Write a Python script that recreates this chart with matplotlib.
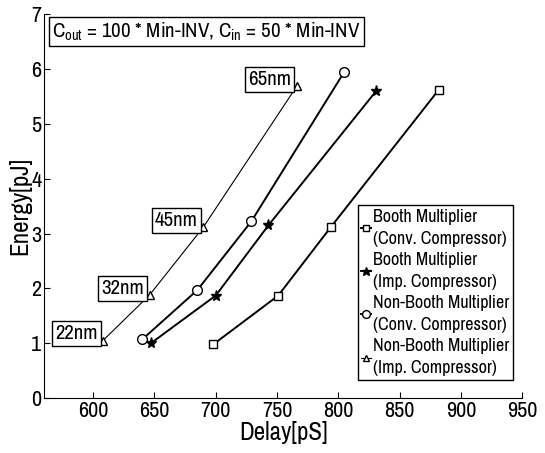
import numpy as np
import matplotlib
matplotlib.use('Agg')
import matplotlib.pyplot as plt

plt.rcParams['font.family'] = ['Archivo Narrow', 'Liberation Sans', 'DejaVu Sans']
plt.rcParams['mathtext.fontset'] = 'custom'
plt.rcParams['mathtext.rm'] = 'Archivo Narrow'

# delay [pS] / energy [pJ] for the 4 designs (22nm, 32nm, 45nm, 65nm)
booth_conv_x = [698, 751, 794, 882]
booth_conv_y = [0.98, 1.87, 3.12, 5.62]
booth_imp_x = [647, 700, 743, 831]
booth_imp_y = [1.0, 1.87, 3.15, 5.6]
nonbooth_conv_x = [640, 685, 729, 805]
nonbooth_conv_y = [1.07, 1.97, 3.22, 5.95]
nonbooth_imp_x = [608, 646, 690, 766]
nonbooth_imp_y = [1.05, 1.88, 3.12, 5.68]
nodes = ['22nm', '32nm', '45nm', '65nm']

labels = ['Booth Multiplier\n(Conv. Compressor)',
          'Booth Multiplier\n(Imp. Compressor)',
          'Non-Booth Multiplier\n(Conv. Compressor)',
          'Non-Booth Multiplier\n(Imp. Compressor)']

fig = plt.figure(figsize=(5.45, 4.53), dpi=100)
ax = fig.add_axes([0.081, 0.121, 0.877, 0.848])

ax.plot(booth_conv_x, booth_conv_y, 'k-', marker='s', mfc='white', mec='k',
        ms=6, lw=1.4, label=labels[0])
ax.plot(booth_imp_x, booth_imp_y, 'k-', marker='*', mfc='k', mec='k',
        ms=8, lw=1.4, label=labels[1])
ax.plot(nonbooth_conv_x, nonbooth_conv_y, 'k-', marker='o', mfc='white', mec='k',
        ms=7, lw=1.4, label=labels[2])
ax.plot(nonbooth_imp_x, nonbooth_imp_y, 'k-', marker='^', mfc='white', mec='k',
        ms=6, lw=0.8, label=labels[3])

for x, y, t in zip(nonbooth_imp_x, nonbooth_imp_y, nodes):
    ax.annotate(t, xy=(x, y), xytext=(-4, -2), textcoords='offset points',
                ha='right', va='bottom', fontsize=15,
                bbox=dict(boxstyle='square,pad=0.15', fc='white', ec='k', lw=1))

ax.text(0.017, 0.983, r'C$_{\mathrm{out}}$ = 100 * Min-INV, C$_{\mathrm{in}}$ = 50 * Min-INV',
        transform=ax.transAxes, ha='left', va='top', fontsize=15,
        bbox=dict(boxstyle='square,pad=0.15', fc='white', ec='k', lw=1))

ax.set_xlim(560, 950)
ax.set_ylim(0, 7)
ax.set_xticks(np.arange(600, 951, 50))
ax.set_yticks(np.arange(0, 8, 1))
ax.tick_params(direction='in', labelsize=16, length=4, color='k', pad=2)
ax.spines['top'].set_visible(False)
ax.spines['right'].set_visible(False)
ax.set_xlabel('Delay[pS]', fontsize=18, labelpad=0)
ax.set_ylabel('Energy[pJ]', fontsize=18, labelpad=0)

leg = ax.legend(loc='lower right', bbox_to_anchor=(1.0, 0.024), fontsize=13,
                handlelength=0.5, handletextpad=0.15, borderpad=0.2,
                labelspacing=0.3, fancybox=False, edgecolor='k', framealpha=1,
                markerscale=0.8)
leg.get_frame().set_linewidth(1)
for t in leg.get_texts():
    t.set_linespacing(1.45)

plt.savefig('out.png', dpi=100)
